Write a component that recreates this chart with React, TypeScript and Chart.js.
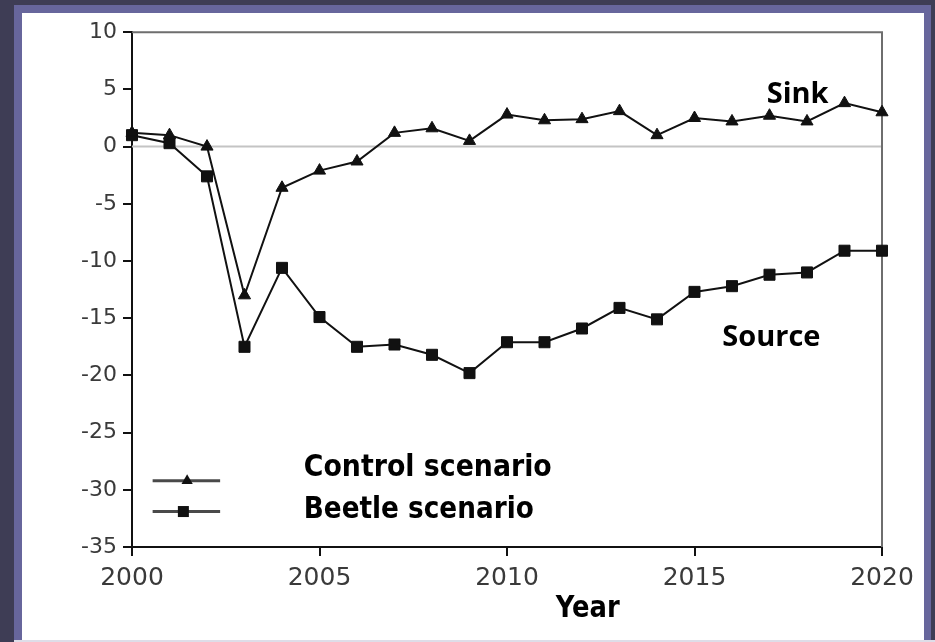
import React, { useEffect, useRef } from 'react';
import { Chart, registerables } from 'chart.js';

Chart.register(...registerables);

const years = [2000, 2001, 2002, 2003, 2004, 2005, 2006, 2007, 2008, 2009, 2010, 2011, 2012, 2013, 2014, 2015, 2016, 2017, 2018, 2019, 2020];
const controlScenario = [1.2, 1.0, 0.0, -13.0, -3.6, -2.1, -1.3, 1.2, 1.6, 0.5, 2.8, 2.3, 2.4, 3.1, 1.0, 2.5, 2.2, 2.7, 2.2, 3.8, 3.0];
const beetleScenario = [1.0, 0.3, -2.6, -17.5, -10.6, -14.9, -17.5, -17.3, -18.2, -19.8, -17.1, -17.1, -15.9, -14.1, -15.1, -12.7, -12.2, -11.2, -11.0, -9.1, -9.1];
const xTicks = [2000, 2005, 2010, 2015, 2020];
const yTicks = [10, 5, 0, -5, -10, -15, -20, -25, -30, -35];
const seriesLabels = ['Control scenario', 'Beetle scenario'];
const sinkLabel = 'Sink';
const sourceLabel = 'Source';
const xAxisTitle = 'Year';

const LINE = '#111111';

function drawScaledText(ctx: CanvasRenderingContext2D, text: string, x: number, y: number, font: string, targetWidth: number, align: 'left' | 'center') {
  ctx.save();
  ctx.font = font;
  const w = ctx.measureText(text).width;
  const s = targetWidth / w;
  ctx.translate(x, y);
  ctx.scale(s, 1);
  ctx.textAlign = 'left';
  ctx.textBaseline = 'alphabetic';
  ctx.fillStyle = '#000';
  ctx.fillText(text, align === 'center' ? -w / 2 : 0, 0);
  ctx.restore();
}

function triangle(ctx: CanvasRenderingContext2D, x: number, y: number, r: number) {
  ctx.beginPath();
  for (let i = 0; i < 3; i++) {
    const a = (i * 2 * Math.PI) / 3;
    const px = x + Math.sin(a) * r;
    const py = y - Math.cos(a) * r;
    if (i === 0) ctx.moveTo(px, py); else ctx.lineTo(px, py);
  }
  ctx.closePath();
  ctx.fill();
}

const decorPlugin = {
  id: 'decor',
  beforeDatasetsDraw(chart: any) {
    const { ctx, chartArea, scales } = chart;
    const y = scales.y;
    ctx.save();
    ctx.strokeStyle = '#c4c4c4';
    ctx.lineWidth = 2;
    ctx.beginPath();
    ctx.moveTo(chartArea.left, y.getPixelForValue(0));
    ctx.lineTo(chartArea.right, y.getPixelForValue(0));
    ctx.stroke();
    ctx.strokeStyle = '#6e6e6e';
    ctx.lineWidth = 2;
    ctx.beginPath();
    ctx.moveTo(chartArea.left, chartArea.top);
    ctx.lineTo(chartArea.right, chartArea.top);
    ctx.lineTo(chartArea.right, chartArea.bottom);
    ctx.stroke();
    ctx.restore();
  },
  afterDatasetsDraw(chart: any) {
    const { ctx, scales } = chart;
    const x = scales.x;
    const y = scales.y;
    ctx.save();
    ctx.fillStyle = '#000';
    ctx.font = "bold 29px 'Open Sans', 'DejaVu Sans', sans-serif";
    ctx.textAlign = 'center';
    ctx.textBaseline = 'alphabetic';
    ctx.fillText(sinkLabel, x.getPixelForValue(2017.75), y.getPixelForValue(3.85));
    ctx.fillText(sourceLabel, x.getPixelForValue(2017.05), y.getPixelForValue(-17.45));

    const legFont = "bold 30px 'DejaVu Sans', sans-serif";
    const x0 = x.getPixelForValue(2000.55);
    const x1 = x.getPixelForValue(2002.35);
    const rows = [
      { yv: -29.2, mx: 2001.47, tri: true, tyv: -28.8, w: 248 },
      { yv: -31.9, mx: 2001.37, tri: false, tyv: -32.5, w: 230 },
    ];
    rows.forEach((r, i) => {
      const py = y.getPixelForValue(r.yv);
      ctx.strokeStyle = '#4a4a4a';
      ctx.lineWidth = 3;
      ctx.beginPath();
      ctx.moveTo(x0, py);
      ctx.lineTo(x1, py);
      ctx.stroke();
      ctx.fillStyle = '#111';
      const mx = x.getPixelForValue(r.mx);
      if (r.tri) triangle(ctx, mx, py, 6.5);
      else ctx.fillRect(mx - 5.5, py - 5.5, 11, 11);
      drawScaledText(ctx, seriesLabels[i], x.getPixelForValue(2004.58), y.getPixelForValue(r.tyv), legFont, r.w, 'left');
    });

    drawScaledText(ctx, xAxisTitle, x.getPixelForValue(2012.15), y.getPixelForValue(-35) + 70, legFont, 64, 'center');
    ctx.restore();
  },
};

export default function App() {
  const ref = useRef<HTMLCanvasElement>(null);

  useEffect(() => {
    document.body.style.margin = '0';
    const canvas = ref.current;
    if (!canvas) return;
    const chart = new Chart(canvas, {
      type: 'line',
      data: {
        datasets: [
          {
            label: seriesLabels[0],
            data: years.map((yr, i) => ({ x: yr, y: controlScenario[i] })),
            borderColor: LINE,
            backgroundColor: LINE,
            borderWidth: 2,
            pointStyle: 'triangle',
            pointRadius: 7,
            pointBorderWidth: 1,
            tension: 0,
            clip: false,
          },
          {
            label: seriesLabels[1],
            data: years.map((yr, i) => ({ x: yr, y: beetleScenario[i] })),
            borderColor: LINE,
            backgroundColor: LINE,
            borderWidth: 2,
            pointStyle: 'rect',
            pointRadius: 7.8,
            pointBorderWidth: 1,
            tension: 0,
            clip: false,
          },
        ],
      },
      options: {
        animation: false,
        responsive: false,
        layout: { padding: { top: 17, right: 42, left: 0, bottom: 0 } },
        plugins: { legend: { display: false }, tooltip: { enabled: false } },
        scales: {
          x: {
            type: 'linear',
            min: xTicks[0],
            max: xTicks[xTicks.length - 1],
            afterBuildTicks: (s: any) => { s.ticks = xTicks.map((v) => ({ value: v })); },
            afterFit: (s: any) => { s.height = 93; },
            border: { color: LINE, width: 2 },
            grid: { drawOnChartArea: false, color: LINE, lineWidth: 2, tickLength: 9 },
            ticks: {
              color: '#3a3a3a',
              font: { family: "'DejaVu Sans', sans-serif", size: 25 },
              padding: 7,
              maxRotation: 0,
              callback: (v: any) => String(v),
            },
          },
          y: {
            type: 'linear',
            min: yTicks[yTicks.length - 1],
            max: yTicks[0],
            afterBuildTicks: (s: any) => { s.ticks = yTicks.slice().reverse().map((v) => ({ value: v })); },
            afterFit: (s: any) => { s.width = 110; },
            border: { color: LINE, width: 2 },
            grid: { drawOnChartArea: false, color: LINE, lineWidth: 2, tickLength: 9 },
            ticks: {
              color: '#3a3a3a',
              font: { family: "'DejaVu Sans', sans-serif", size: 22 },
              padding: 6,
              callback: (v: any) => String(v),
            },
          },
        },
      },
      plugins: [decorPlugin],
    } as any);
    return () => chart.destroy();
  }, []);

  return (
    <div style={{ position: 'relative', width: 935, height: 642, background: '#3e3d55', overflow: 'hidden' }}>
      <div style={{ position: 'absolute', left: 14, top: 5, width: 917, height: 637, background: '#67669c' }} />
      <div style={{ position: 'absolute', left: 22, top: 13, width: 902, height: 627, background: '#ffffff' }} />
      <div style={{ position: 'absolute', left: 14, top: 640, width: 921, height: 2, background: '#dedde8' }} />
      <canvas ref={ref} width={902} height={627} style={{ position: 'absolute', left: 22, top: 13, width: 902, height: 627 }} />
    </div>
  );
}
